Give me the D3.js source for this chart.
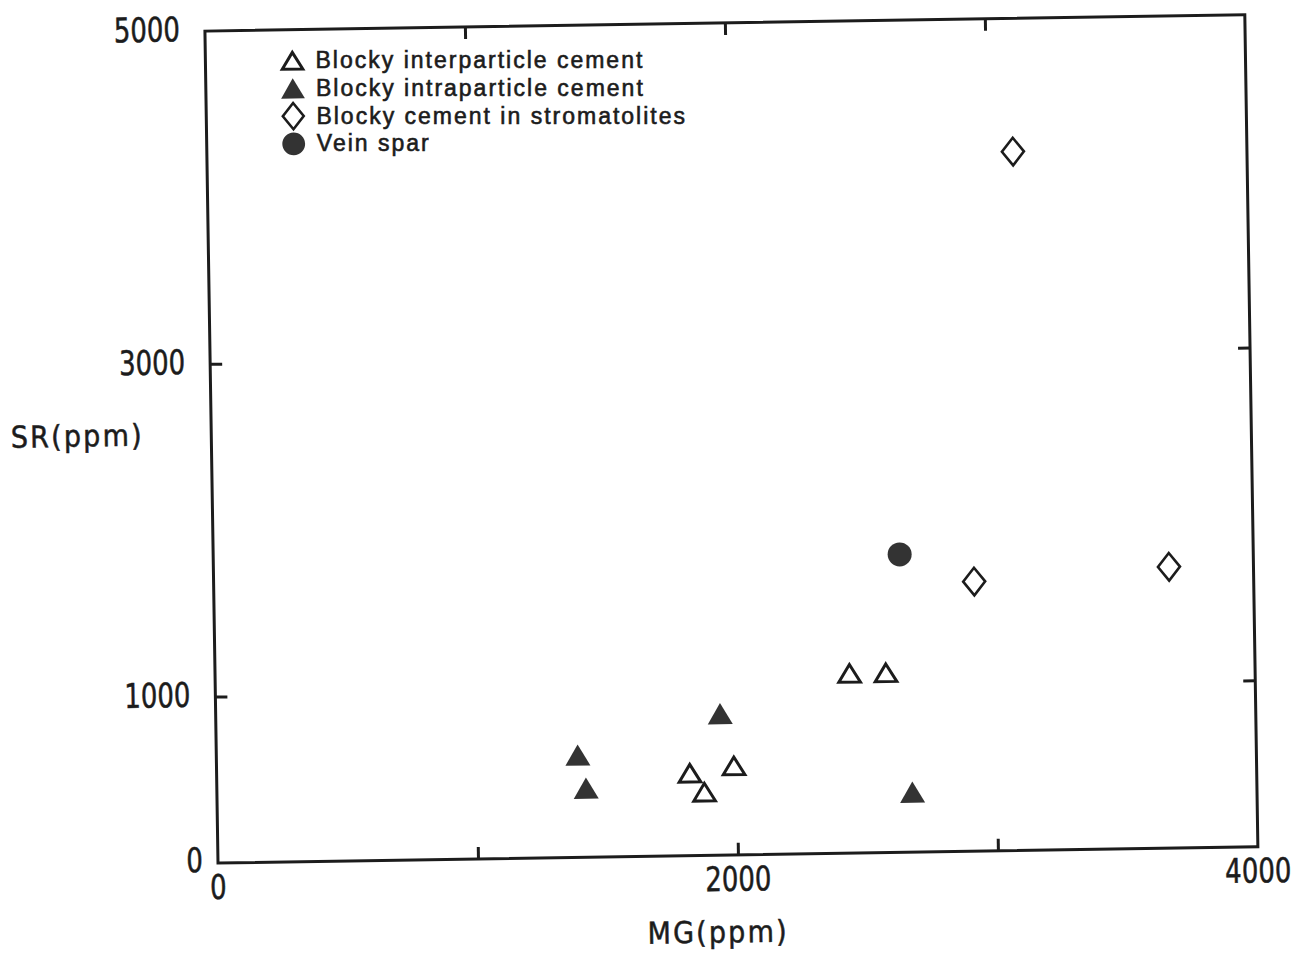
<!DOCTYPE html>
<html>
<head>
<meta charset="utf-8">
<script src="https://cdn.jsdelivr.net/npm/d3@7"></script>
<style>
  html, body { margin: 0; padding: 0; background: #fff; }
  svg { display: block; }
  text { fill: #1c1c1c; }
  .tick-label { font-family: 'Liberation Sans Narrow', 'DejaVu Sans Condensed', sans-serif; font-size: 34px; stroke: #1c1c1c; stroke-width: 0.5px; }
  .axis-title { font-family: 'DejaVu Sans Condensed', sans-serif; font-size: 30px; letter-spacing: 2.2px; stroke: #1c1c1c; stroke-width: 0.5px; }
  .legend-text { font-family: 'Liberation Sans', Arial, sans-serif; font-size: 23px; letter-spacing: 2px; stroke: #1c1c1c; stroke-width: 0.6px; }
</style>
</head>
<body>
<script>
// Sr vs Mg content of calcite cements (ppm)
const interMg  = [1820, 1875, 1990, 2440, 2580];
const interSr  = [495, 380, 535, 1080, 1080];
const intraMg  = [1390, 1420, 1940, 2675];
const intraSr  = [615, 415, 850, 360];
const stromMg  = [2925, 3100, 3675];
const stromSr  = [1620, 4200, 1690];
const veinMg   = [2640];
const veinSr   = [1790];

const xTickMarks  = [1000, 2000, 3000];
const yTickMarks  = [1000, 3000];
const xTickLabels = [0, 2000, 4000];
const yTickLabels = [0, 1000, 3000, 5000];

const legendLabels = [
  "Blocky interparticle cement",
  "Blocky intraparticle cement",
  "Blocky cement in stromatolites",
  "Vein spar"
];
const legendKinds = ["triOpen", "triFilled", "diamond", "circle"];

const W = 1298, H = 958;
const plotW = 1040, plotH = 832;
const ox = 218, oy = 863, tilt = -0.9;
const ink = "#1c1c1c", fillInk = "#333";
const narrow = 0.85;   // horizontal squeeze of the numeric labels

const svg = d3.select("body").append("svg")
  .attr("width", W).attr("height", H);

// the whole sheet sits slightly tilted
const g = svg.append("g")
  .attr("transform", `translate(${ox},${oy}) rotate(${tilt}) translate(0,${-plotH})`);

// maps a point of the tilted plot frame to page coordinates
function toPage(lx, ly) {
  const a = tilt * Math.PI / 180, yy = ly - plotH;
  return [ox + lx * Math.cos(a) - yy * Math.sin(a), oy + lx * Math.sin(a) + yy * Math.cos(a)];
}

const x = d3.scaleLinear().domain([0, 4000]).range([0, plotW]);
const y = d3.scaleLinear().domain([0, 5000]).range([plotH, 0]);

// frame
g.append("rect")
  .attr("x", 0).attr("y", 0).attr("width", plotW).attr("height", plotH)
  .attr("fill", "none").attr("stroke", ink).attr("stroke-width", 3);

// inward tick marks on all four sides
function tickStyle(sel) {
  sel.select(".domain").remove();
  sel.selectAll(".tick line").attr("stroke", ink).attr("stroke-width", 3);
  sel.selectAll(".tick text").remove();
}
g.append("g").attr("transform", `translate(0,${plotH})`)
  .call(d3.axisBottom(x).tickValues(xTickMarks).tickSize(-12)).call(tickStyle);
g.append("g")
  .call(d3.axisTop(x).tickValues(xTickMarks).tickSize(-12)).call(tickStyle);
g.append("g")
  .call(d3.axisLeft(y).tickValues(yTickMarks).tickSize(-12)).call(tickStyle);
g.append("g").attr("transform", `translate(${plotW},0)`)
  .call(d3.axisRight(y).tickValues(yTickMarks).tickSize(-12)).call(tickStyle);

// tick labels
g.selectAll(".xl").data(xTickLabels).join("text")
  .attr("class", "tick-label")
  .attr("transform", d => `translate(${x(d)},${plotH + 24}) scale(${narrow},1)`)
  .attr("text-anchor", "middle").attr("dominant-baseline", "central")
  .text(d => d);
g.selectAll(".yl").data(yTickLabels).join("text")
  .attr("class", "tick-label")
  .attr("transform", d => `translate(${d === 0 ? -15 : -25},${y(d) - (d === 0 ? 3 : 2)}) scale(${narrow},1)`)
  .attr("text-anchor", "end").attr("dominant-baseline", "central")
  .text(d => d);

// axis titles
g.append("text").attr("class", "axis-title")
  .attr("x", -134).attr("y", plotH - 429)
  .attr("text-anchor", "middle").attr("dominant-baseline", "central")
  .text("SR(ppm)");
g.append("text").attr("class", "axis-title")
  .attr("x", 499).attr("y", plotH + 77)
  .attr("text-anchor", "middle").attr("dominant-baseline", "central")
  .text("MG(ppm)");

// marker shapes
function triPath(hw, hh) {
  const p = d3.path();
  p.moveTo(0, -hh); p.lineTo(hw, hh); p.lineTo(-hw, hh); p.closePath();
  return p.toString();
}
function diamondPath(hw, hh) {
  const p = d3.path();
  p.moveTo(0, -hh); p.lineTo(hw, 0); p.lineTo(0, hh); p.lineTo(-hw, 0); p.closePath();
  return p.toString();
}
function drawMarker(sel, kind, scale) {
  const s = scale || 1;
  if (kind === "triOpen") {
    sel.append("path").attr("d", triPath(10.8 * s, 8.8 * s))
      .attr("fill", "#fff").attr("stroke", ink).attr("stroke-width", 3).attr("stroke-linejoin", "miter");
  } else if (kind === "triFilled") {
    sel.append("path").attr("d", triPath(12.5 * s, 10.6 * s)).attr("fill", fillInk);
  } else if (kind === "diamond") {
    sel.append("path").attr("d", diamondPath(11 * s, 13.8 * s))
      .attr("fill", "#fff").attr("stroke", ink).attr("stroke-width", 2.6);
  } else {
    sel.append("circle").attr("r", 12 * s).attr("fill", fillInk);
  }
}

function plotSeries(mg, sr, kind) {
  const pts = mg.map((m, i) => ({ m, s: sr[i] }));
  g.append("g").selectAll("g").data(pts).join("g")
    .attr("transform", d => `translate(${x(d.m)},${y(d.s)})`)
    .each(function () { drawMarker(d3.select(this), kind); });
}
plotSeries(interMg, interSr, "triOpen");
plotSeries(intraMg, intraSr, "triFilled");
plotSeries(stromMg, stromSr, "diamond");
plotSeries(veinMg, veinSr, "circle");

// legend: symbols inside the tilted frame, text set level on the page
const legendLeft = 87, legendTop = 31, legendStep = 27.7;
legendLabels.forEach((label, i) => {
  const rowY = legendTop + i * legendStep;
  const row = g.append("g").attr("transform", `translate(${legendLeft},${rowY})`);
  drawMarker(row, legendKinds[i], 0.95);
  const [tx, ty] = toPage(legendLeft + 23, rowY + 8);
  svg.append("text").attr("class", "legend-text")
    .attr("x", tx).attr("y", ty)
    .text(label);
});
</script>
</body>
</html>
